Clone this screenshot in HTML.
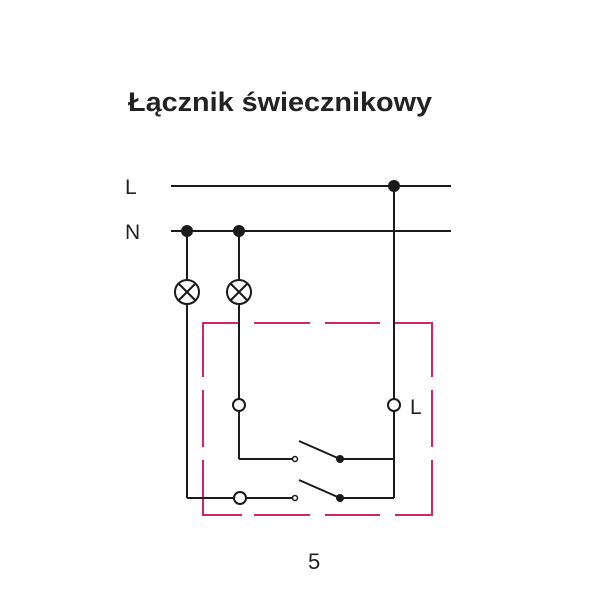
<!DOCTYPE html>
<html><head><style>html,body{margin:0;padding:0;background:#fff}</style></head>
<body>
<svg width="602" height="600" viewBox="0 0 602 600" xmlns="http://www.w3.org/2000/svg">
<text x="128" y="111" font-family="Liberation Sans, sans-serif" font-weight="bold" font-size="27" fill="#222" textLength="304" lengthAdjust="spacingAndGlyphs">Łącznik świecznikowy</text>
<text x="125" y="194" font-family="Liberation Sans, sans-serif" font-size="21" fill="#222">L</text>
<text x="125" y="239" font-family="Liberation Sans, sans-serif" font-size="21" fill="#222">N</text>
<text x="410" y="414" font-family="Liberation Sans, sans-serif" font-size="21" fill="#222">L</text>
<text x="308" y="569" font-family="Liberation Sans, sans-serif" font-size="22" fill="#222">5</text>
<g stroke="#d0246e" stroke-width="2" fill="none">
<path d="M240 323 H203 V377 M203 390 V447 M203 460 V515 H242 M254 323 H310 M325 323 H380 M395 323 H432 V377 M432 390 V447 M432 460 V515 H395 M254 515 H310 M325 515 H380"/>
</g>
<g stroke="#1a1a1a" stroke-width="2" fill="none">
<line x1="171" y1="186" x2="451" y2="186"/>
<line x1="171" y1="231" x2="451" y2="231"/>
<line x1="394" y1="186" x2="394" y2="399"/>
<line x1="394" y1="411" x2="394" y2="498"/>
<line x1="187" y1="231" x2="187" y2="280"/>
<line x1="187" y1="304" x2="187" y2="498"/>
<line x1="239" y1="231" x2="239" y2="280"/>
<line x1="239" y1="304" x2="239" y2="399"/>
<line x1="239" y1="411" x2="239" y2="459"/>
<line x1="239" y1="459" x2="292" y2="459"/>
<line x1="340" y1="459" x2="394" y2="459"/>
<line x1="187" y1="498" x2="234" y2="498"/>
<line x1="246" y1="498" x2="292" y2="498"/>
<line x1="340" y1="498" x2="394" y2="498"/>
<line x1="299" y1="441" x2="340" y2="459"/>
<line x1="299" y1="480" x2="340" y2="498"/>
<circle cx="187" cy="292" r="12"/>
<line x1="178.5" y1="283.5" x2="195.5" y2="300.5"/><line x1="195.5" y1="283.5" x2="178.5" y2="300.5"/>
<circle cx="239" cy="292" r="12"/>
<line x1="230.5" y1="283.5" x2="247.5" y2="300.5"/><line x1="247.5" y1="283.5" x2="230.5" y2="300.5"/>
<circle cx="239" cy="405" r="6" fill="#fff"/>
<circle cx="394" cy="405" r="6" fill="#fff"/>
<circle cx="240" cy="498" r="6" fill="#fff"/>
<circle cx="295" cy="459" r="2.5" fill="#fff" stroke-width="1.5"/>
<circle cx="295" cy="498" r="2.5" fill="#fff" stroke-width="1.5"/>
</g>
<g fill="#1a1a1a">
<circle cx="394" cy="186" r="6"/>
<circle cx="187" cy="231" r="6"/>
<circle cx="239" cy="231" r="6"/>
<circle cx="340" cy="459" r="4"/>
<circle cx="340" cy="498" r="4"/>
</g>
</svg>
</body></html>
